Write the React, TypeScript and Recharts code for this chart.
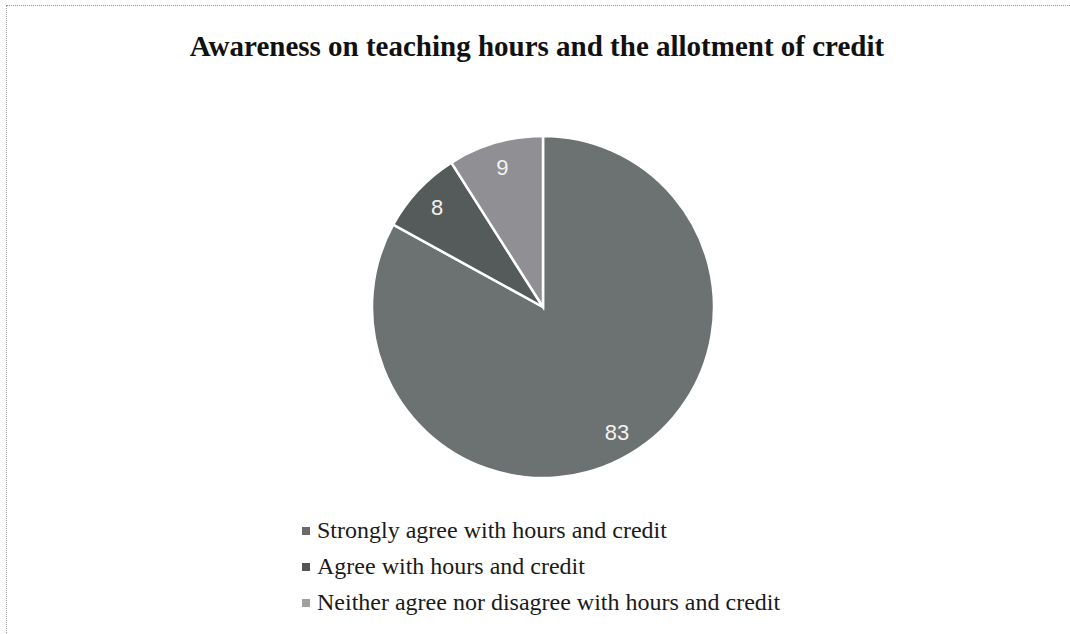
import React from "react";
import { PieChart, Pie, Cell, Legend } from "recharts";

const categories = [
  "Strongly agree with hours and credit",
  "Agree with hours and credit",
  "Neither agree nor disagree with hours and credit",
];
const values = [83, 8, 9];
const colors = ["#6c7171", "#555b5b", "#8f8f94"];
const legendColors = ["#6a6a6a", "#555555", "#a0a0a0"];
const title = "Awareness on teaching hours and the allotment of credit";

const data = categories.map((name, i) => ({ name, value: values[i] }));

const RADIAN = Math.PI / 180;

const renderLabel = (props: any) => {
  const { cx, cy, midAngle, outerRadius, value } = props;
  const r = outerRadius * 0.85;
  const x = cx + r * Math.cos(-midAngle * RADIAN);
  const y = cy + r * Math.sin(-midAngle * RADIAN);
  return (
    <text
      x={x}
      y={y}
      fill="#f2f2f2"
      textAnchor="middle"
      dominantBaseline="central"
      fontFamily="'Liberation Sans', Arial, sans-serif"
      fontSize={22}
    >
      {value}
    </text>
  );
};

const renderLegend = () => (
  <div style={{ fontFamily: "'Liberation Serif', 'Times New Roman', serif", fontSize: 24, color: "#1a1a1a" }}>
    {categories.map((c, i) => (
      <div key={c} style={{ display: "flex", alignItems: "center", height: 36 }}>
        <span
          style={{
            display: "inline-block",
            width: 8,
            height: 8,
            background: legendColors[i],
            marginRight: 7,
            marginTop: 2,
          }}
        />
        <span>{c}</span>
      </div>
    ))}
  </div>
);

export default function App() {
  return (
    <div style={{ position: "absolute", left: 0, top: 0, width: 1070, height: 634, background: "#fff", overflow: "hidden" }}>
      <div
        style={{
          position: "absolute",
          left: 6,
          top: 5,
          width: 1100,
          height: 700,
          border: "1px dotted #9a9a9a",
        }}
      />
      <div
        style={{
          position: "absolute",
          left: 0,
          top: 29,
          width: 1074,
          textAlign: "center",
          fontFamily: "'Liberation Serif', 'Times New Roman', serif",
          fontWeight: "bold",
          fontSize: 29,
          lineHeight: "34px",
          color: "#111",
        }}
      >
        {title}
      </div>
      <div style={{ position: "absolute", left: 0, top: 0 }}>
        <PieChart width={1070} height={634} margin={{ top: 0, right: 0, bottom: 0, left: 0 }}>
          <Pie
            data={data}
            dataKey="value"
            nameKey="name"
            cx={543}
            cy={307}
            outerRadius={171}
            startAngle={90}
            endAngle={-270}
            stroke="#ffffff"
            strokeWidth={2.5}
            label={renderLabel}
            labelLine={false}
            isAnimationActive={false}
          >
            {data.map((d, i) => (
              <Cell key={d.name} fill={colors[i]} />
            ))}
          </Pie>
          <Legend
            content={renderLegend}
            layout="horizontal"
            verticalAlign="bottom"
            align="left"
            wrapperStyle={{ left: 302, top: 512, bottom: "auto", width: 600 }}
          />
        </PieChart>
      </div>
    </div>
  );
}
